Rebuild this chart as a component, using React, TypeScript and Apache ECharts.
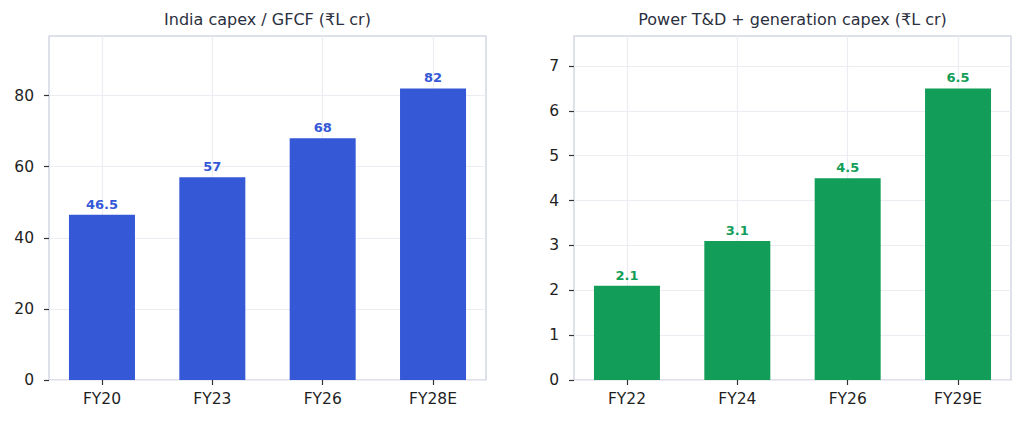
import React, { useEffect, useRef } from "react";
import * as echarts from "echarts";

// India capex / GFCF, ₹ lakh crore
const capexCategories = ["FY20", "FY23", "FY26", "FY28E"];
const capexValues = [46.5, 57, 68, 82];
const capexTicks = [0, 20, 40, 60, 80];

// Power T&D + generation capex, ₹ lakh crore
const powerCategories = ["FY22", "FY24", "FY26", "FY29E"];
const powerValues = [2.1, 3.1, 4.5, 6.5];
const powerTicks = [0, 1, 2, 3, 4, 5, 6, 7];

const capexTitle = "India capex / GFCF (₹L cr)";
const powerTitle = "Power T&D + generation capex (₹L cr)";

const BLUE = "#3558d6";
const GREEN = "#129e58";
const FONT = "DejaVu Sans";
const GRID_LINE = "#ebedf3";
const FRAME = "#d3d8e3";
const TICK = "#333333";
const TEXT = "#1f1f1f";

const catIdx = [0, 1, 2, 3];

function xAxisFor(gridIndex: number, cats: string[]) {
  return {
    type: "value",
    gridIndex,
    min: -0.48,
    max: 3.48,
    axisLine: { show: false, onZero: false },
    axisTick: {
      show: true,
      customValues: catIdx,
      length: 5,
      lineStyle: { color: TICK, width: 1.2 },
    },
    axisLabel: {
      customValues: catIdx,
      formatter: (v: number) => cats[Math.round(v)] ?? "",
      fontFamily: FONT,
      fontSize: 15.5,
      color: TEXT,
      margin: 11,
    },
    splitLine: { show: true, lineStyle: { color: GRID_LINE, width: 1.2 } },
  };
}

function yAxisFor(gridIndex: number, values: number[], ticks: number[]) {
  return {
    type: "value",
    gridIndex,
    min: 0,
    max: Math.max(...values) * 1.18,
    axisLine: { show: false, onZero: false },
    axisTick: {
      show: true,
      customValues: ticks,
      length: 5,
      lineStyle: { color: TICK, width: 1.2 },
    },
    axisLabel: {
      customValues: ticks,
      fontFamily: FONT,
      fontSize: 15.5,
      color: TEXT,
      margin: 15,
    },
    splitLine: { show: true, lineStyle: { color: GRID_LINE, width: 1.2 } },
  };
}

function barSeries(idx: number, values: number[], color: string) {
  return {
    type: "bar",
    xAxisIndex: idx,
    yAxisIndex: idx,
    barWidth: 66,
    data: values.map((v, i) => [i, v]),
    itemStyle: { color },
    label: {
      show: true,
      position: "top",
      distance: 4,
      fontFamily: FONT,
      fontWeight: "bold",
      fontSize: 13,
      color,
      formatter: (p: any) => String(p.value[1]),
    },
  };
}

const titleStyle = { fontFamily: FONT, fontSize: 16, fontWeight: "normal", color: "#2b3040" };

export default function App() {
  const ref = useRef<HTMLDivElement>(null);

  useEffect(() => {
    if (!ref.current) return;
    const chart = echarts.init(ref.current, undefined, { renderer: "svg" });
    chart.setOption({
      animation: false,
      backgroundColor: "#ffffff",
      title: [
        { text: capexTitle, left: 267.5, top: 11, padding: 0, textAlign: "center", textStyle: titleStyle },
        { text: powerTitle, left: 792.5, top: 11, padding: 0, textAlign: "center", textStyle: titleStyle },
      ],
      grid: [
        { left: 49, top: 36, width: 437, height: 344, show: true, borderColor: FRAME, borderWidth: 1.5, backgroundColor: "transparent" },
        { left: 574, top: 36, width: 437, height: 344, show: true, borderColor: FRAME, borderWidth: 1.5, backgroundColor: "transparent" },
      ],
      xAxis: [xAxisFor(0, capexCategories), xAxisFor(1, powerCategories)],
      yAxis: [yAxisFor(0, capexValues, capexTicks), yAxisFor(1, powerValues, powerTicks)],
      series: [barSeries(0, capexValues, BLUE), barSeries(1, powerValues, GREEN)],
    });
    return () => chart.dispose();
  }, []);

  return (
    <div
      ref={ref}
      style={{ position: "absolute", left: 0, top: 0, width: 1024, height: 423, background: "#fff" }}
    />
  );
}
